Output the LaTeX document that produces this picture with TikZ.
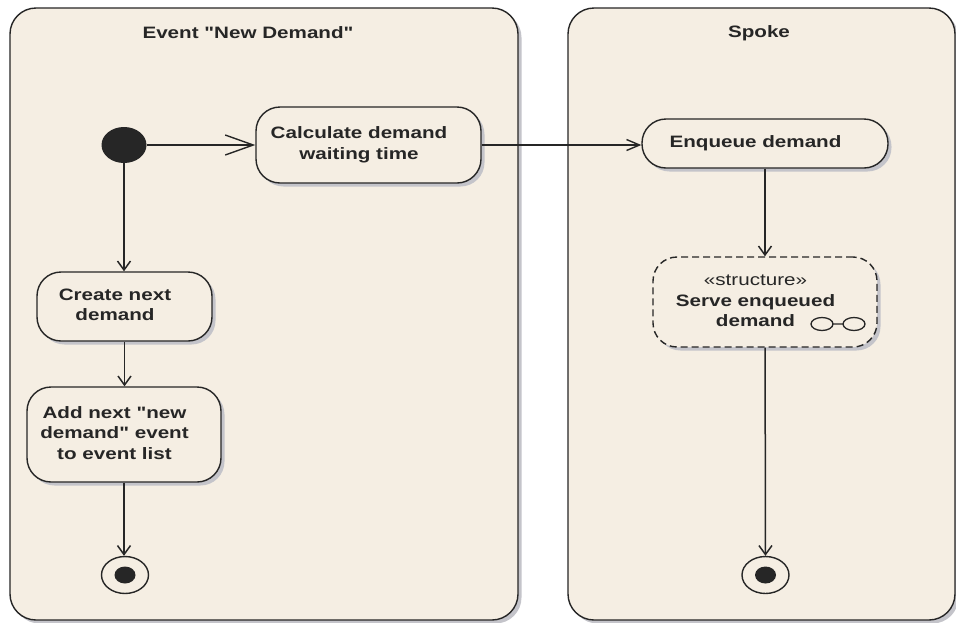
\documentclass[tikz,border=0pt]{standalone}
\usepackage{fontspec}
\newfontfamily\diagfont{Liberation Sans}[FakeStretch=1.25]
\usetikzlibrary{shapes.geometric,arrows.meta,shadows}

\definecolor{panelfill}{RGB}{245,238,227}
\definecolor{ink}{RGB}{38,38,38}
\definecolor{shade}{RGB}{196,196,202}

% multi-line label, nudged a little to the left inside its box
\newcommand\leftlines[1]{\begin{tabular}{@{}c@{}}#1\end{tabular}\hspace*{19pt}}

\tikzset{
  diagtext/.style={text=ink, font=\diagfont\bfseries\fontsize{16.5}{20.5}\selectfont},
  softshadow/.style={drop shadow={shadow xshift=3.5pt, shadow yshift=-3.5pt, fill=shade, opacity=1}},
  partition/.style={draw=ink, line width=1.4pt, fill=panelfill, rounded corners=26pt, softshadow},
  action/.style={diagtext, draw=ink, line width=1.4pt, fill=panelfill, rounded corners=24pt,
                 inner sep=0pt, softshadow},
  initnode/.style={ellipse, fill=ink, inner sep=0pt, minimum width=45pt, minimum height=36pt},
  finalnode/.style={ellipse, draw=ink, line width=1.4pt, fill=panelfill, inner sep=0pt,
                    minimum width=47pt, minimum height=37pt,
                    path picture={\fill[ink] (path picture bounding box.center)
                                  ellipse [x radius=10.5pt, y radius=8.5pt];}},
  flow/.style={draw=ink, line width=1.5pt, -{Straight Barb[length=9pt,width=13pt]}},
  bigflow/.style={draw=ink, line width=1.4pt, -{Straight Barb[length=28pt,width=20pt]}},
  midflow/.style={draw=ink, line width=1.4pt, -{Straight Barb[length=13pt,width=11pt]}},
}

\begin{document}
\begin{tikzpicture}[x=1pt,y=-1pt]
  \useasboundingbox (0,0) rectangle (956,622);
  \fill[white] (0,0) rectangle (956,622);

  % swimlane partitions
  \path[partition] (10,8) rectangle (518,620);
  \path[partition] (568,8) rectangle (955,620);
  \node[diagtext] (laneA) at (248,33) {Event "New Demand"};
  \node[diagtext] (laneB) at (759,33) {Spoke};

  % actions of the "New Demand" event
  \node[initnode] (init) at (124,145) {};
  \node[action, minimum width=225pt, minimum height=76pt] (calc) at (368.5,145)
       {\leftlines{Calculate demand\\waiting time}};
  \node[action, minimum width=175pt, minimum height=69pt] (create) at (124.5,306.5)
       {\leftlines{Create next\\demand}};
  \node[action, minimum width=194pt, minimum height=95pt] (addev) at (124,434.5)
       {\leftlines{Add next "new\\demand" event\\to event list}};
  \node[finalnode] (finA) at (125,575) {};

  % actions of the spoke
  \node[action, minimum width=246pt, minimum height=49pt] (enq) at (765,143.5)
       {\leftlines{Enqueue demand}};
  \node[action, dash pattern=on 7pt off 4pt, minimum width=224pt, minimum height=90pt]
       (serve) at (765,302)
       {\leftlines{{\mdseries «structure»}\\Serve enqueued\\demand}};
  \node[finalnode] (finB) at (765.5,575) {};

  % structured-activity icon
  \draw[ink, line width=1.3pt]
    ([shift={(57,22)}]serve.center) ellipse [x radius=11pt, y radius=6.5pt]
    ([shift={(89,22)}]serve.center) ellipse [x radius=11pt, y radius=6.5pt]
    ([shift={(68,22)}]serve.center) -- ([shift={(78,22)}]serve.center);

  % control flows
  \draw[bigflow] (init) -- (calc);
  \draw[midflow] (calc.east) -- (enq.west |- calc.east);
  \draw[flow] (init) -- (init |- create.north);
  \draw[flow] (create) -- (create |- addev.north);
  \draw[flow] (addev) -- (addev |- finA.north);
  \draw[flow] (enq) -- (serve);
  \draw[flow] (serve) -- (finB);
\end{tikzpicture}
\end{document}
